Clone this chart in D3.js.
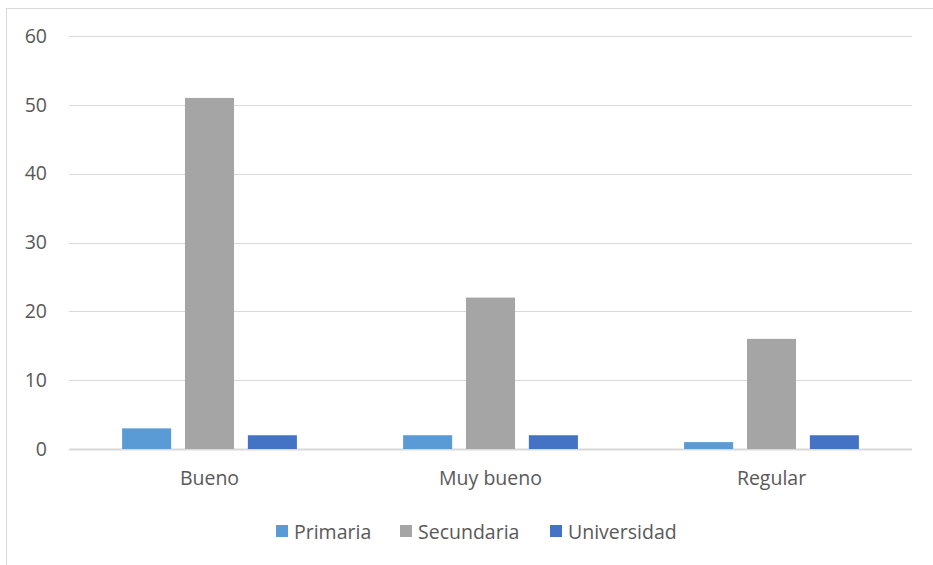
<!DOCTYPE html>
<html><head><meta charset="utf-8">
<script src="https://cdn.jsdelivr.net/npm/d3@7"></script>
<style>body{margin:0;background:#fff;}svg{display:block;font-family:"Open Sans",sans-serif;}</style>
</head><body>
<svg id="c" width="933" height="565"></svg>
<script>
const categories = ["Bueno", "Muy bueno", "Regular"];
const seriesNames = ["Primaria", "Secundaria", "Universidad"];
const primaria = [3, 2, 1];
const secundaria = [51, 22, 16];
const universidad = [2, 2, 2];
const yTicks = [0, 10, 20, 30, 40, 50, 60];
const colors = ["#5B9BD5", "#A5A5A5", "#4472C4"];

const values = [primaria, secundaria, universidad];
const svg = d3.select("#c");
const mLeft = 69, mRight = 912, mTop = 36, mBottom = 449;
const fs = 19.5;

svg.append("rect").attr("x", 6.5).attr("y", 8.5).attr("width", 940).attr("height", 600)
  .attr("fill", "none").attr("stroke", "#d9d9d9");

const x = d3.scaleBand().domain(categories).range([mLeft, mRight]).paddingInner(0.378).paddingOuter(0.189);
const xs = d3.scaleBand().domain(seriesNames).range([0, x.bandwidth()]).paddingInner(0.22);
const y = d3.scaleLinear().domain([0, 60]).range([mBottom, mTop]);

const grid = svg.append("g");
grid.selectAll("line").data(yTicks).join("line")
  .attr("x1", mLeft).attr("x2", mRight)
  .attr("y1", d => Math.round(y(d)) + 0.5).attr("y2", d => Math.round(y(d)) + 0.5)
  .attr("stroke", "#d9d9d9").attr("stroke-width", 1);

const yAxis = svg.append("g").attr("transform", `translate(${mLeft - 22},0)`)
  .call(d3.axisLeft(y).tickValues(yTicks).tickSize(0).tickPadding(0));
yAxis.select(".domain").remove();
yAxis.selectAll("text").attr("font-size", fs).attr("fill", "#595959").attr("font-family", "Open Sans");

svg.append("line").attr("x1", mLeft).attr("x2", mRight).attr("y1", mBottom + 0.5).attr("y2", mBottom + 0.5)
  .attr("stroke", "#d9d9d9").attr("stroke-width", 2);

seriesNames.forEach((s, si) => {
  svg.append("g").selectAll("rect").data(categories).join("rect")
    .attr("x", c => x(c) + xs(s))
    .attr("width", xs.bandwidth())
    .attr("y", (c, i) => y(values[si][i]))
    .attr("height", (c, i) => y(0) - y(values[si][i]))
    .attr("fill", colors[si]);
});

const xAxis = svg.append("g").attr("transform", `translate(0,${mBottom})`)
  .call(d3.axisBottom(x).tickSize(0).tickPadding(22));
xAxis.select(".domain").remove();
xAxis.selectAll("text").attr("font-size", fs).attr("fill", "#595959").attr("font-family", "Open Sans");

const legendX = [276, 400, 550];
const lg = svg.append("g");
seriesNames.forEach((s, i) => {
  lg.append("rect").attr("x", legendX[i]).attr("y", 525).attr("width", 12).attr("height", 12).attr("fill", colors[i]);
  lg.append("text").attr("x", legendX[i] + 18).attr("y", 538.5).text(s)
    .attr("font-size", fs).attr("fill", "#595959");
});
</script>
</body></html>
